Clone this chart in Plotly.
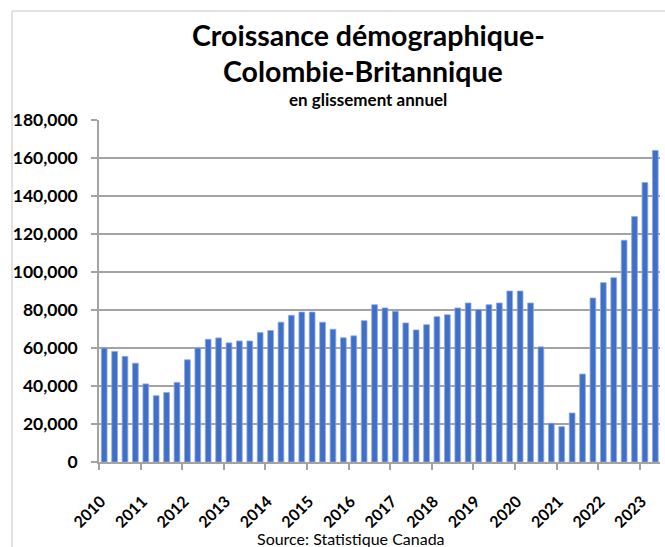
import plotly.graph_objects as go

years = [str(y) for y in range(2010, 2024)]
quarters = [f"{y}T{q}" for y in range(2010, 2024) for q in range(1, 5)][:54]
growth = [
    60000, 58200, 55600, 52000,
    41100, 34900, 36600, 41900,
    53800, 60000, 64600, 65300,
    62700, 63700, 63700, 68100,
    69200, 73600, 77200, 78900,
    78900, 73600, 69900, 65400,
    66400, 74400, 82800, 81100,
    79300, 73200, 69500, 72300,
    76500, 77500, 81100, 83700,
    80200, 82800, 83700, 90000,
    90000, 83700, 60600, 20400,
    18600, 25800, 46300, 86300,
    94400, 97000, 116700, 129200,
    147100, 164000,
]
yticks = list(range(0, 180001, 20000))

W, H = 665, 547
L, R, T, B = 99, 5, 120, 85
PW, PH = W - L - R, H - T - B


def px(x):
    return (x - L) / PW


def py(y):
    return (H - B - y) / PH


FONT = "Lato, 'Open Sans', sans-serif"
GRID = "#A3A3A3"

xpos = list(range(len(growth)))

fig = go.Figure(
    go.Bar(
        x=xpos,
        y=growth,
        width=0.55,
        marker=dict(color="#3F6FC6", line=dict(color="#8FAAE0", width=0.8)),
        hovertext=quarters,
    )
)

fig.update_layout(
    width=W,
    height=H,
    margin=dict(l=L, r=R, t=T, b=B, autoexpand=False),
    paper_bgcolor="white",
    plot_bgcolor="white",
    showlegend=False,
    font=dict(family=FONT, color="black"),
)

fig.update_xaxes(
    automargin=False,
    range=[-0.5, 53.45],
    tickmode="array",
    tickvals=[-0.5 + 4 * k for k in range(len(years))],
    ticktext=years,
    tickangle=-45,
    tickfont=dict(family=FONT, size=16, color="black", weight="bold"),
    ticks="outside",
    ticklen=6,
    tickcolor=GRID,
    tickwidth=1.5,
    ticklabelstandoff=16,
    ticklabelshift=2,
    showline=True,
    linecolor=GRID,
    linewidth=1.5,
    showgrid=False,
    zeroline=False,
)

fig.update_yaxes(
    automargin=False,
    range=[0, 180000],
    tickmode="array",
    tickvals=yticks,
    tickformat=",",
    tickfont=dict(family=FONT, size=17.5, color="black", weight="bold"),
    ticks="outside",
    ticklen=6,
    tickcolor=GRID,
    tickwidth=1.5,
    ticklabelstandoff=10,
    showline=True,
    linecolor=GRID,
    linewidth=1.5,
    showgrid=True,
    gridcolor=GRID,
    gridwidth=1.5,
    zeroline=False,
)

annotations = [
    dict(text="<b>Croissance démographique-</b>", x=px(368), y=py(35), size=28.5),
    dict(text="<b>Colombie-Britannique</b>", x=px(363), y=py(71), size=28.5),
    dict(text="<b>en glissement annuel</b>", x=px(368), y=py(100), size=17),
    dict(text="Source: Statistique Canada", x=px(351), y=py(538), size=16),
]
for a in annotations:
    fig.add_annotation(
        text=a["text"], x=a["x"], y=a["y"], xref="paper", yref="paper",
        xanchor="center", yanchor="middle", showarrow=False,
        font=dict(family=FONT, size=a["size"], color="black"),
    )

# chart frame (left and top edges visible)
fig.add_shape(type="line", xref="paper", yref="paper",
              x0=px(12), x1=px(12), y0=py(11), y1=py(560),
              line=dict(color="#D9D9D9", width=1.5))
fig.add_shape(type="line", xref="paper", yref="paper",
              x0=px(12), x1=px(680), y0=py(11), y1=py(11),
              line=dict(color="#D9D9D9", width=1.5))

fig.write_html(
    "out.html",
    config={"displayModeBar": False},
    post_script="document.body.style.margin='0';document.body.style.overflow='hidden';",
)
